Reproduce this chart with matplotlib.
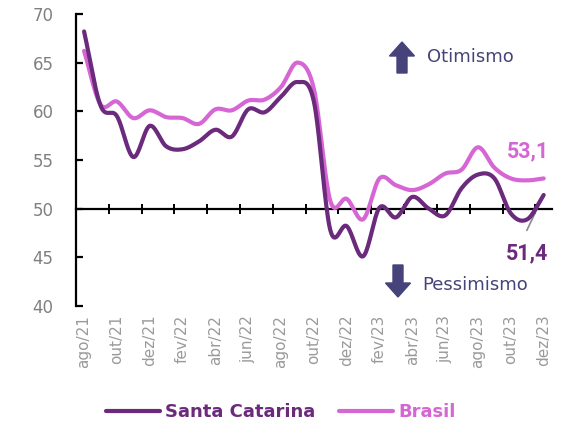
import matplotlib.pyplot as plt
import numpy as np

# monthly series, ago/21 .. dez/23
months = ["ago/21", "set/21", "out/21", "nov/21", "dez/21", "jan/22", "fev/22",
          "mar/22", "abr/22", "mai/22", "jun/22", "jul/22", "ago/22", "set/22",
          "out/22", "nov/22", "dez/22", "jan/23", "fev/23", "mar/23", "abr/23",
          "mai/23", "jun/23", "jul/23", "ago/23", "set/23", "out/23", "nov/23",
          "dez/23"]
santa_catarina = [68.2, 60.6, 59.5, 55.3, 58.5, 56.4, 56.1, 56.9, 58.1, 57.4,
                  60.2, 59.9, 61.5, 63.0, 61.0, 47.8, 48.2, 45.1, 50.1, 49.1,
                  51.2, 50.0, 49.3, 52.1, 53.5, 53.1, 49.5, 48.9, 51.4]
brasil = [66.2, 60.7, 61.0, 59.3, 60.1, 59.4, 59.3, 58.7, 60.2, 60.1,
          61.1, 61.2, 62.5, 65.0, 62.3, 50.8, 51.0, 48.9, 53.1, 52.4,
          51.9, 52.5, 53.6, 54.0, 56.3, 54.2, 53.1, 52.9, 53.1]

sc_color = "#6b2a7b"
br_color = "#d766d5"
note_color = "#46437a"
grey = "#8a8a8a"


def smooth(y, n=20):
    # catmull-rom, close to the smoothed lines of the original
    y = np.asarray(y, dtype=float)
    p = np.concatenate([[2 * y[0] - y[1]], y, [2 * y[-1] - y[-2]]])
    xs, ys = [], []
    for i in range(len(y) - 1):
        p0, p1, p2, p3 = p[i], p[i + 1], p[i + 2], p[i + 3]
        t = np.linspace(0, 1, n, endpoint=False)
        m1 = (p2 - p0) / 2
        m2 = (p3 - p1) / 2
        h00 = 2 * t**3 - 3 * t**2 + 1
        h10 = t**3 - 2 * t**2 + t
        h01 = -2 * t**3 + 3 * t**2
        h11 = t**3 - t**2
        xs.append(i + t)
        ys.append(h00 * p1 + h10 * m1 + h01 * p2 + h11 * m2)
    xs.append([len(y) - 1])
    ys.append([y[-1]])
    return np.concatenate(xs), np.concatenate(ys)


plt.rcParams['font.family'] = ['DejaVu Sans']

fig = plt.figure(figsize=(5.62, 4.22), dpi=100)
ax = fig.add_axes([0.135, 0.275, 0.847, 0.692])

x = np.arange(len(months))
sx, sy = smooth(santa_catarina)
bx, by = smooth(brasil)
ax.plot(bx, by, color=br_color, lw=3, solid_capstyle='round', label="Brasil", zorder=3)
ax.plot(sx, sy, color=sc_color, lw=3, solid_capstyle='round', label="Santa Catarina", zorder=4)

ax.set_xlim(-0.5, len(months) - 0.5)
ax.set_ylim(40, 70)
ax.set_yticks(range(40, 71, 5))

# x axis crosses at 50
ax.spines['bottom'].set_position(('data', 50))
ax.spines['bottom'].set_linewidth(1.6)
ax.spines['left'].set_linewidth(1.6)
ax.spines['top'].set_visible(False)
ax.spines['right'].set_visible(False)
ax.tick_params(axis='y', direction='in', length=5, width=1.6, pad=16,
               labelsize=12, labelcolor="#808080")
ax.set_xticks(np.arange(1.5, len(months) - 1, 2))
ax.tick_params(axis='x', direction='inout', length=7, width=1.4, labelbottom=False)

# month labels below the plot
for i in range(0, len(months), 2):
    ax.text(i, 39.1, months[i], rotation=90, ha='center', va='top',
            fontsize=11, color="#9a9a9a")

# end values
ax.text(27.05, 55.9, "53,1", color=br_color, fontsize=15.5, fontweight='bold',
        family='Roboto', ha='center', va='center')
ax.annotate("", xy=(28, santa_catarina[-1]), xytext=(26.9, 47.5),
            arrowprops=dict(arrowstyle='-', color=grey, lw=1.2))
ax.text(27.0, 45.4, "51,4", color=sc_color, fontsize=15.5, fontweight='bold',
        family='Roboto', ha='center', va='center')

# optimism / pessimism notes
fig.patches.append(plt.matplotlib.patches.FancyArrow(
    402 / 562, 1 - 73 / 422, 0, 31 / 422, width=10 / 562, head_width=25 / 562,
    head_length=14 / 422, length_includes_head=True, color=note_color,
    transform=fig.transFigure, figure=fig))
fig.patches.append(plt.matplotlib.patches.FancyArrow(
    398 / 562, 1 - 265 / 422, 0, -32 / 422, width=10 / 562, head_width=25 / 562,
    head_length=14 / 422, length_includes_head=True, color=note_color,
    transform=fig.transFigure, figure=fig))
fig.text(427 / 562, 1 - 57 / 422, "Otimismo", color=note_color, fontsize=13,
         ha='left', va='center')
fig.text(422 / 562, 1 - 285 / 422, "Pessimismo", color=note_color, fontsize=13,
         ha='left', va='center')

handles, labels = ax.get_legend_handles_labels()
leg = fig.legend(handles[::-1], labels[::-1], loc='center', bbox_to_anchor=(0.5, 1 - 412 / 422),
                 ncol=2, frameon=False, handlelength=3.0, columnspacing=1.3,
                 handletextpad=0.3, prop={'size': 13, 'weight': 'bold'})
for text, c in zip(leg.get_texts(), [sc_color, br_color]):
    text.set_color(c)

fig.savefig("out.png", dpi=100, facecolor='white')
